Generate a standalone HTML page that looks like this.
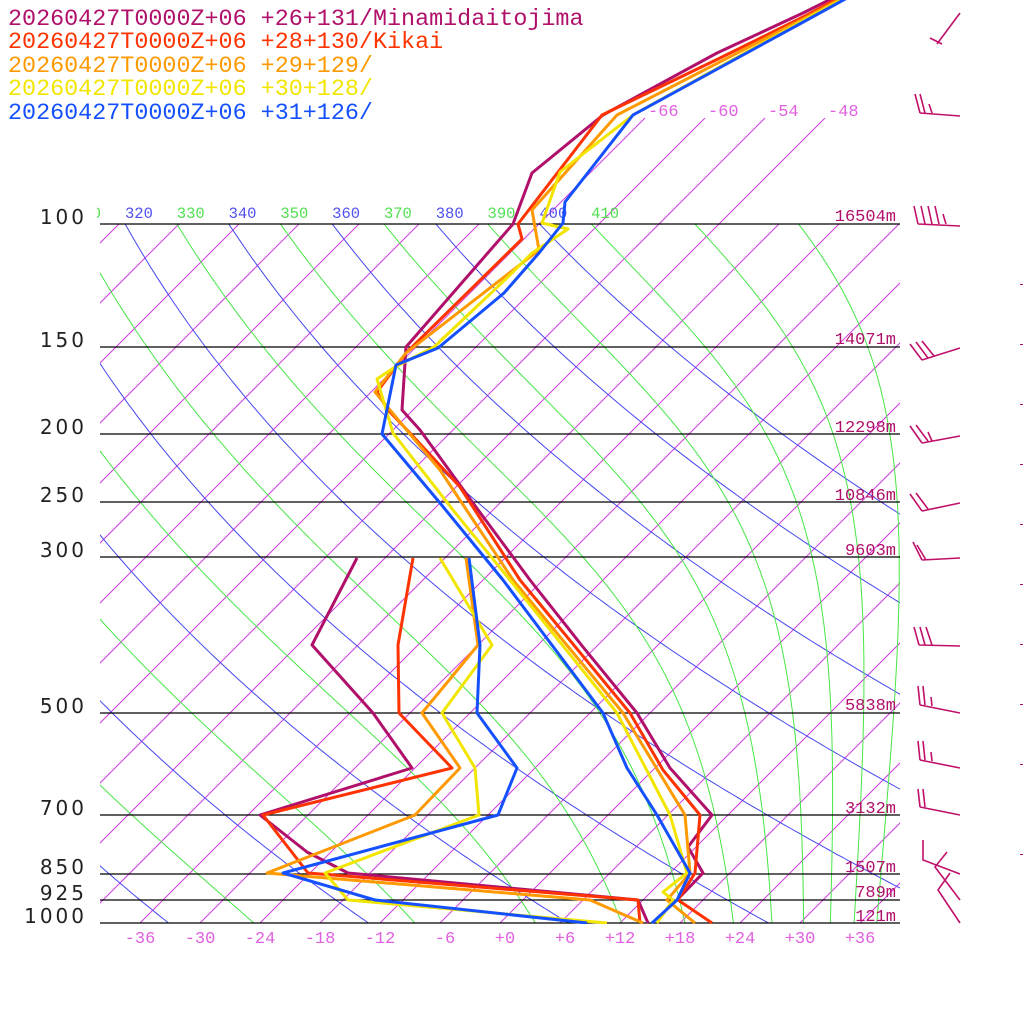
<!DOCTYPE html>
<html><head><meta charset="utf-8"><style>
html,body{margin:0;padding:0;background:#fff;}
svg{display:block;}
.leg{font-family:"Liberation Mono",monospace;font-size:23.4px;}
.mono{font-family:"Liberation Mono",monospace;}
.pl{font-family:"DejaVu Sans","Liberation Sans",sans-serif;font-size:20px;letter-spacing:3px;fill:#222;text-anchor:end;}
</style></head><body>
<svg id="s" width="1024" height="1024" viewBox="0 0 1024 1024" xmlns="http://www.w3.org/2000/svg">
<defs>
<clipPath id="cp"><rect x="100" y="0" width="800" height="924"/></clipPath>
<clipPath id="cp2"><rect x="97" y="190" width="803" height="40"/></clipPath>
</defs>
<rect width="1024" height="1024" fill="#fff"/>
<g id="grid" clip-path="url(#cp)"></g>
<g id="thl" clip-path="url(#cp2)" class="mono" font-size="15.5"></g>
<g id="isol" class="mono" font-size="17" fill="#e060e0"></g>
<g stroke="#000" stroke-width="1.2">
<line x1="100" y1="224" x2="900" y2="224"/>
<line x1="100" y1="347" x2="900" y2="347"/>
<line x1="100" y1="434" x2="900" y2="434"/>
<line x1="100" y1="502" x2="900" y2="502"/>
<line x1="100" y1="557" x2="900" y2="557"/>
<line x1="100" y1="713" x2="900" y2="713"/>
<line x1="100" y1="815" x2="900" y2="815"/>
<line x1="100" y1="874" x2="900" y2="874"/>
<line x1="100" y1="900" x2="900" y2="900"/>
<line x1="100" y1="923" x2="900" y2="923"/>
</g>
<g class="pl">
<text x="87" y="224">100</text><text x="87" y="347">150</text><text x="87" y="434">200</text>
<text x="87" y="502">250</text><text x="87" y="557">300</text><text x="87" y="713">500</text>
<text x="87" y="815">700</text><text x="87" y="874">850</text><text x="87" y="900">925</text>
<text x="87" y="923">1000</text>
</g>
<g class="mono" font-size="17" fill="#b0106a" text-anchor="end">
<text x="896" y="221">16504m</text><text x="896" y="344">14071m</text><text x="896" y="432">12298m</text>
<text x="896" y="500">10846m</text><text x="896" y="555">9603m</text><text x="896" y="710">5838m</text>
<text x="896" y="813">3132m</text><text x="896" y="872">1507m</text><text x="896" y="897">789m</text>
<text x="896" y="921">121m</text>
</g>
<g class="mono" font-size="17" fill="#e060e0" text-anchor="middle">
<text x="140" y="943">-36</text><text x="200" y="943">-30</text><text x="260" y="943">-24</text>
<text x="320" y="943">-18</text><text x="380" y="943">-12</text><text x="445" y="943">-6</text>
<text x="505" y="943">+0</text><text x="565" y="943">+6</text><text x="620" y="943">+12</text>
<text x="680" y="943">+18</text><text x="740" y="943">+24</text><text x="800" y="943">+30</text>
<text x="860" y="943">+36</text>
</g>
<g fill="none" stroke-width="3" stroke-linejoin="round" clip-path="url(#cp)">
<polyline stroke="#b0106a" points="357,558 312,645 373,713 412,768 260,815 307,852 348,873 638,900 648,923"/>
<polyline stroke="#ff3300" points="413,558 398,645 399,713 452,768 263,815 308,873 638,900 640,923"/>
<polyline stroke="#ff9900" points="466,558 478,645 422,713 460,768 415,815 267,873 590,900 643,923"/>
<polyline stroke="#f2e600" points="440,558 492,645 442,713 475,768 479,815 325,873 348,900 607,923"/>
<polyline stroke="#1450ff" points="469,558 480,645 477,713 517,768 498,815 283,873 375,900 587,923"/>
<polyline stroke="#b0106a" points="845,-8 803,13 717,53 603,115 532,173 513,224 406,347 402,410 420,430 473,503 530,580 583,647 637,713 670,768 712,815 688,847 703,873 677,900"/>
<polyline stroke="#ff3300" points="850,-8 807,15 720,58 602,115 518,224 522,239 406,353 377,392 388,410 410,433 460,487 520,580 630,713 663,770 700,815 695,873 678,900 712,923"/>
<polyline stroke="#ff9900" points="853,-8 807,17 617,115 532,210 539,250 406,353 375,392 390,410 440,470 513,580 623,713 685,815 690,873 667,900 695,923"/>
<polyline stroke="#f2e600" points="856,-8 808,18 633,115 560,172 542,223 568,229 532,253 508,277 434,347 395,367 377,379 393,433 453,510 510,580 617,713 670,815 687,873 663,892 673,900 657,923"/>
<polyline stroke="#1450ff" points="858,-8 807,20 633,115 565,202 563,223 539,253 504,293 438,348 396,365 382,434 440,503 503,580 603,713 627,768 657,815 690,873 677,900 652,923"/>
</g>
<g fill="none" stroke="#c0106a" stroke-width="1.6">
<path d="M960,13 L937,44 M930,38 L942,44"/>
<path d="M920,113 L960,116 M915,94 L920,113 M920,94 L925,113 M929,104 L932,113"/>
<path d="M918,224 L960,226 M914,206 L918,224 M921,206 L925,224 M928,206 L932,224 M935,206 L939,224 M943,214 L946,224"/>
<path d="M922,360 L960,348 M910,344 L922,360 M916,342 L928,358 M922,341 L934,356"/>
<path d="M922,443 L960,436 M910,426 L922,443 M916,425 L928,441 M928,432 L932,441"/>
<path d="M922,511 L960,503 M910,494 L922,511 M916,493 L928,509"/>
<path d="M922,560 L960,558 M913,542 L922,560 M917,545 L926,560"/>
<path d="M919,645 L960,646 M914,627 L919,645 M920,627 L925,645 M926,627 L932,645"/>
<path d="M920,705 L960,713 M918,686 L920,705 M923,686 L925,705 M931,697 L932,706"/>
<path d="M920,760 L960,768 M918,741 L920,760 M923,741 L925,760 M931,752 L932,761"/>
<path d="M920,807 L960,815 M918,789 L920,807 M923,789 L925,807"/>
<path d="M923,840 L923,860 L960,874 M947,852 L935,867 L960,900 M950,873 L938,890 L960,923"/>
</g>
<g class="leg">
<text x="8" y="25" fill="#b0106a">20260427T0000Z+06 +26+131/Minamidaitojima</text>
<text x="8" y="48" fill="#ff3300">20260427T0000Z+06 +28+130/Kikai</text>
<text x="8" y="72" fill="#ff9900">20260427T0000Z+06 +29+129/</text>
<text x="8" y="95" fill="#f2e600">20260427T0000Z+06 +30+128/</text>
<text x="8" y="119" fill="#1450ff">20260427T0000Z+06 +31+126/</text>
</g>
<g fill="#b0106a"><rect x="1020" y="284" width="3" height="1"/><rect x="1020" y="344" width="3" height="1"/><rect x="1020" y="404" width="3" height="1"/><rect x="1020" y="464" width="3" height="1"/><rect x="1020" y="524" width="3" height="1"/><rect x="1020" y="584" width="3" height="1"/><rect x="1020" y="644" width="3" height="1"/><rect x="1020" y="704" width="3" height="1"/><rect x="1020" y="764" width="3" height="1"/><rect x="1020" y="854" width="3" height="1"/></g>
</svg>
<script>
(function(){
var NS="http://www.w3.org/2000/svg";
function Y(p){return 923-303.6*Math.log(1000/p);}
function X(T,y){return 500+10*T+(923-y);}
var g=document.getElementById("grid"),tl=document.getElementById("thl"),il=document.getElementById("isol");
function el(n,a,par){var e=document.createElementNS(NS,n);for(var k in a)e.setAttribute(k,a[k]);par.appendChild(e);return e;}
for(var T=-132;T<=48;T+=6){
  var y0=(T>=-66&&T<=-48)?118:224,y1=923;
  el("line",{x1:X(T,y0),y1:y0,x2:X(T,y1),y2:y1,stroke:"#d23ce0","stroke-width":"1"},g);
}
[-66,-60,-54,-48].forEach(function(T){var x=X(T,118);el("text",{x:x+3,y:116},il).textContent=String(T);});
function es(Tc){return 6.112*Math.exp(17.67*Tc/(Tc+243.5));}
function lapse(T,p){var Tc=T-273.15,e=es(Tc),rs=0.622*e/Math.max(p-e,1);
  var Rd=287.04,cp=1005.7,L=2.501e6;
  return (1/p)*(Rd*T+L*rs)/(cp+L*L*rs*0.622/(Rd*T*T));}
for(var th=200;th<=400;th+=20){
  var pts=[];
  for(var p=100;p<=1000.01;p+=5){var y=Y(p);var T=th*Math.pow(p/1000,0.2857)-273.15;pts.push(X(T,y).toFixed(1)+","+y.toFixed(1));}
  el("polyline",{points:pts.join(" "),fill:"none",stroke:"#4646f0","stroke-width":"1"},g);
  if(th>=320&&th<=400){el("text",{x:X(th*Math.pow(0.1,0.2857)-273.15,224),y:218,fill:"#5050f0"},tl).textContent=String(th);}
}
for(var th=210;th<=450;th+=20){
  var T=th*Math.pow(0.1,0.2857),p=100,pts=[],dp=2;
  while(p<=1000.01){
    var y=Y(p);pts.push(X(T-273.15,y).toFixed(1)+","+y.toFixed(1));
    var k1=lapse(T,p),k2=lapse(T+k1*dp,p+dp);T+=0.5*(k1+k2)*dp;p+=dp;
  }
  el("polyline",{points:pts.join(" "),fill:"none",stroke:"#46e646","stroke-width":"1"},g);
  if(th>=310&&th<=410){el("text",{x:X(th*Math.pow(0.1,0.2857)-273.15,224),y:218,fill:"#50e050"},tl).textContent=String(th);}
}
})();
</script>
</body></html>
